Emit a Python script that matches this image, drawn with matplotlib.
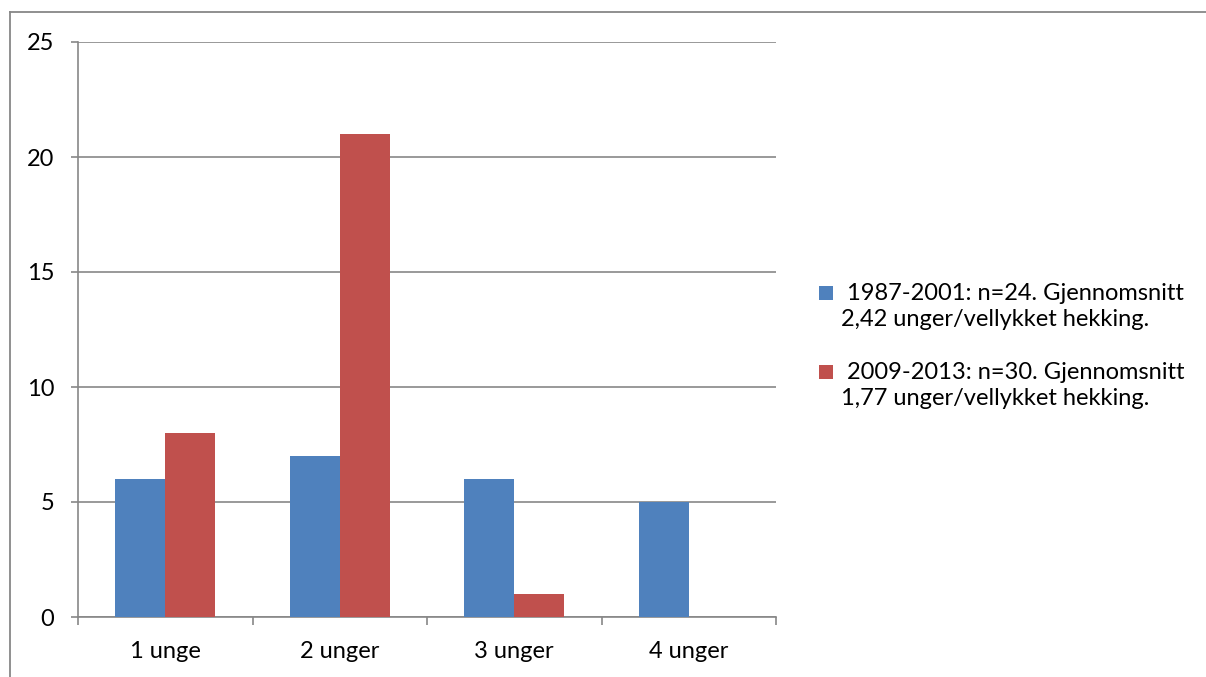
import matplotlib.pyplot as plt
import numpy as np
from matplotlib.lines import Line2D
from matplotlib.patches import Rectangle

categories = ["1 unge", "2 unger", "3 unger", "4 unger"]
series_names = [
    " 1987-2001: n=24. Gjennomsnitt\n2,42 unger/vellykket hekking.",
    " 2009-2013: n=30. Gjennomsnitt\n1,77 unger/vellykket hekking.",
]
values_1987 = [6, 7, 6, 5]
values_2009 = [8, 21, 1, 0]
y_ticks = [0, 5, 10, 15, 20, 25]

BLUE = "#4F81BD"
RED = "#C0504D"
GRID = "#878787"
W, H = 1206, 677
FS = 17

plt.rcParams["font.family"] = ["Lato", "DejaVu Sans"]

fig = plt.figure(figsize=(W / 100, H / 100), dpi=100, facecolor="white")
ax = fig.add_axes([78 / W, 1 - 617 / H, 698 / W, 575 / H])

x = np.arange(len(categories))
bar_w = 1 / 3.5
ax.bar(x - bar_w / 2, values_1987, width=bar_w, color=BLUE, zorder=3)
ax.bar(x + bar_w / 2, values_2009, width=bar_w, color=RED, zorder=3)

ax.set_xlim(-0.5, len(categories) - 0.5)
ax.set_ylim(0, 25)
ax.set_yticks(y_ticks)
ax.set_xticks(x)
ax.set_xticklabels(categories)
ax.set_xticks(np.arange(len(categories) + 1) - 0.5, minor=True)

ax.yaxis.grid(True, color=GRID, linewidth=1.2, zorder=0)
for side in ["top", "right"]:
    ax.spines[side].set_visible(False)
for side in ["left", "bottom"]:
    ax.spines[side].set_color(GRID)
    ax.spines[side].set_linewidth(1.2)

ax.tick_params(axis="y", length=5, width=1.2, color=GRID, pad=12, labelsize=FS)
ax.tick_params(axis="x", which="major", length=0, pad=17, labelsize=FS)
ax.tick_params(axis="x", which="minor", length=6, width=1.2, color=GRID)

# legend drawn by hand, Excel style: square marker + wrapped label
for i, (name, color) in enumerate(zip(series_names, [BLUE, RED])):
    cy = 293 + i * 79
    fig.add_artist(Rectangle((819 / W, 1 - (cy + 7) / H), 14 / W, 14 / H,
                             transform=fig.transFigure, facecolor=color, edgecolor="none"))
    fig.text(841 / W, 1 - (cy + 13.5) / H, name, fontsize=FS, va="center", ha="left",
             linespacing=1.35)

# outer chart border (runs past the right and bottom image edges)
fig.add_artist(Line2D([10 / W, 10 / W], [0, 1 - 12 / H], transform=fig.transFigure,
                      color=GRID, linewidth=1.3))
fig.add_artist(Line2D([10 / W, 1], [1 - 12 / H, 1 - 12 / H], transform=fig.transFigure,
                      color=GRID, linewidth=1.3))

fig.savefig("out.png", dpi=100, facecolor="white")
